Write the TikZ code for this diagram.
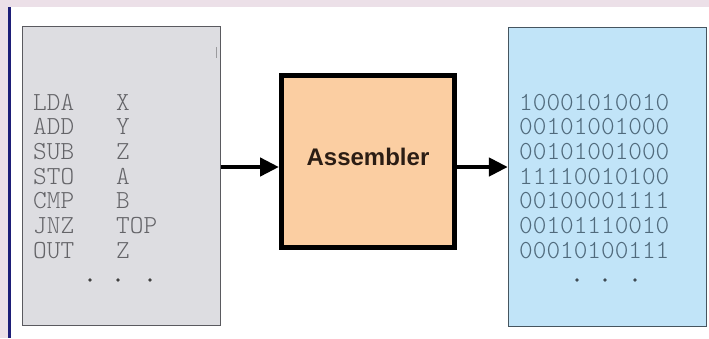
\documentclass[tikz,border=0pt]{standalone}
\usepackage{fontspec}
\setmonofont{Latin Modern Mono Light}
\setsansfont{Liberation Sans}
\usetikzlibrary{arrows.meta}
\definecolor{bgpink}{RGB}{236,224,232}
\definecolor{rulenavy}{RGB}{30,30,120}
\definecolor{srcfill}{RGB}{221,221,225}
\definecolor{srcline}{RGB}{90,90,95}
\definecolor{srctext}{RGB}{100,100,104}
\definecolor{asmfill}{RGB}{251,206,162}
\definecolor{asmtext}{RGB}{43,29,20}
\definecolor{objfill}{RGB}{193,228,248}
\definecolor{objline}{RGB}{70,85,95}
\definecolor{objtext}{RGB}{80,106,124}
\tikzset{
  listbox/.style={draw,line width=1.3pt,minimum width=198pt,minimum height=299pt,inner sep=0pt},
  asmbox/.style={draw=black,fill=asmfill,line width=5pt,minimum width=173pt,minimum height=172pt,
    inner sep=0pt,text=asmtext,font=\sffamily\bfseries\fontsize{24}{28}\selectfont},
  codeline/.style={anchor=base west,inner sep=0pt,font=\ttfamily\fontsize{26}{28}\selectfont},
  flow/.style={-{Triangle[length=19pt,width=18pt]},line width=4.5pt},
}
\begin{document}
\begin{tikzpicture}[x=1pt,y=-1pt]
  \useasboundingbox (0,0) rectangle (709,338);
  % page background
  \fill[bgpink] (0,0) rectangle (709,7);
  \fill[bgpink] (0,7) rectangle (8,338);
  \draw[rulenavy,line width=2.5pt] (9.5,7) -- (9.5,338);
  % boxes
  \node[listbox,draw=srcline,fill=srcfill] (src) at (121.5,176) {};
  \node[listbox,draw=objline,fill=objfill] (obj) at (607.5,177) {};
  \node[asmbox] (asm) at (368,161.5) {\raisebox{9pt}{Assembler}};
  \draw[srcfill!70!black,line width=0.6pt] (216,47) -- (216,58);
  % source listing
  \foreach \mn/\opd [count=\i from 0] in {LDA/X,ADD/Y,SUB/Z,STO/A,CMP/B,JNZ/TOP,OUT/Z}{
    \node[codeline,text=srctext] (op\i) at (33,110+24.7*\i) {\mn};
    \node[codeline,text=srctext] (arg\i) at (116,110+24.7*\i) {\opd};
  }
  \foreach \x in {90,118,150} \fill[black!75] (\x,280) circle (1.8);
  % object code
  \foreach \bits [count=\i from 0] in {10001010010,00101001000,00101001000,11110010100,
      00100001111,00101110010,00010100111}{
    \node[codeline,text=objtext] (bin\i) at (519,110+24.7*\i) {\bits};
  }
  \foreach \x in {577,605,635} \fill[objline!90!black] (\x,280) circle (1.8);
  % arrows
  \draw[flow] (src.east |- 0,167) -- (asm.west |- 0,167);
  \draw[flow] (asm.east |- 0,167) -- (obj.west |- 0,167);
\end{tikzpicture}
\end{document}
